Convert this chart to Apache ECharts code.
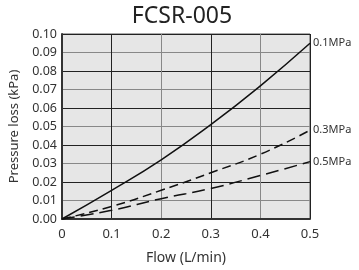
<!DOCTYPE html>
<html>
<head>
<meta charset="utf-8">
<script src="https://cdn.jsdelivr.net/npm/echarts@6/dist/echarts.min.js"></script>
<style>
html, body { margin: 0; padding: 0; background: #fff; }
#chart { width: 359px; height: 270px; }
</style>
</head>
<body>
<div id="chart"></div>
<script>
// flow (L/min) and pressure loss (kPa)
const flow = [0, 0.1, 0.2, 0.3, 0.4, 0.5]
const loss01 = [0, 0.0155, 0.032, 0.051, 0.072, 0.095]
const loss03 = [0, 0.0068, 0.0155, 0.025, 0.035, 0.048]
const loss05 = [0, 0.0047, 0.011, 0.0165, 0.0235, 0.031]
const seriesNames = ['0.1MPa', '0.3MPa', '0.5MPa']

const font = 'Noto Sans'

const pairs = (ys) => flow.map((x, i) => [x, ys[i]])

const lineSeries = (name, ys, dash) => ({
	name: name,
	type: 'line',
	smooth: true,
	symbol: 'none',
	data: pairs(ys),
	lineStyle: { color: '#111', width: 1.5, type: dash },
	endLabel: {
		show: true,
		formatter: '{a}',
		color: '#333',
		fontFamily: font,
		fontSize: 11,
		distance: 3,
	},
	z: 5,
})

const chart = echarts.init(document.getElementById('chart'))

chart.setOption({
	animation: false,
	title: {
		text: 'FCSR-005',
		left: 177,
		textAlign: 'center',
		top: 0,
		textStyle: { fontFamily: font, fontSize: 23, fontWeight: 'normal', color: '#222' },
	},
	grid: {
		left: 62,
		right: 49,
		top: 34,
		bottom: 51,
		outerBoundsMode: 'none',
		containLabel: false,
		show: true,
		backgroundColor: '#e6e6e6',
		borderColor: '#555',
		borderWidth: 1,
	},
	xAxis: {
		type: 'value',
		min: 0,
		max: 0.5,
		interval: 0.1,
		name: 'Flow (L/min)',
		nameLocation: 'middle',
		nameGap: 32,
		nameTextStyle: { fontFamily: font, fontSize: 14, color: '#333' },
		axisLine: { show: true, lineStyle: { color: '#333', width: 2 } },
		axisTick: { show: false },
		axisLabel: {
			fontFamily: font,
			fontSize: 13,
			color: '#333',
			margin: 9,
			formatter: (v) => (v === 0 ? '0' : v.toFixed(1)),
		},
		splitLine: { show: true, lineStyle: { color: ['#888', '#222'], width: 1 } },
	},
	yAxis: {
		type: 'value',
		min: 0,
		max: 0.1,
		interval: 0.01,
		name: 'Pressure loss (kPa)',
		nameLocation: 'middle',
		nameGap: 41,
		nameTextStyle: { fontFamily: font, fontSize: 13, color: '#333' },
		axisLine: { show: true, lineStyle: { color: '#333', width: 2 } },
		axisTick: { show: false },
		axisLabel: {
			fontFamily: font,
			fontSize: 12.5,
			color: '#333',
			margin: 5,
			formatter: (v) => v.toFixed(2),
		},
		splitLine: { show: true, lineStyle: { color: ['#222', '#888'], width: 1 } },
	},
	series: [
		lineSeries(seriesNames[0], loss01, 'solid'),
		lineSeries(seriesNames[1], loss03, [9, 5]),
		lineSeries(seriesNames[2], loss05, [13, 6]),
	],
})
</script>
</body>
</html>
